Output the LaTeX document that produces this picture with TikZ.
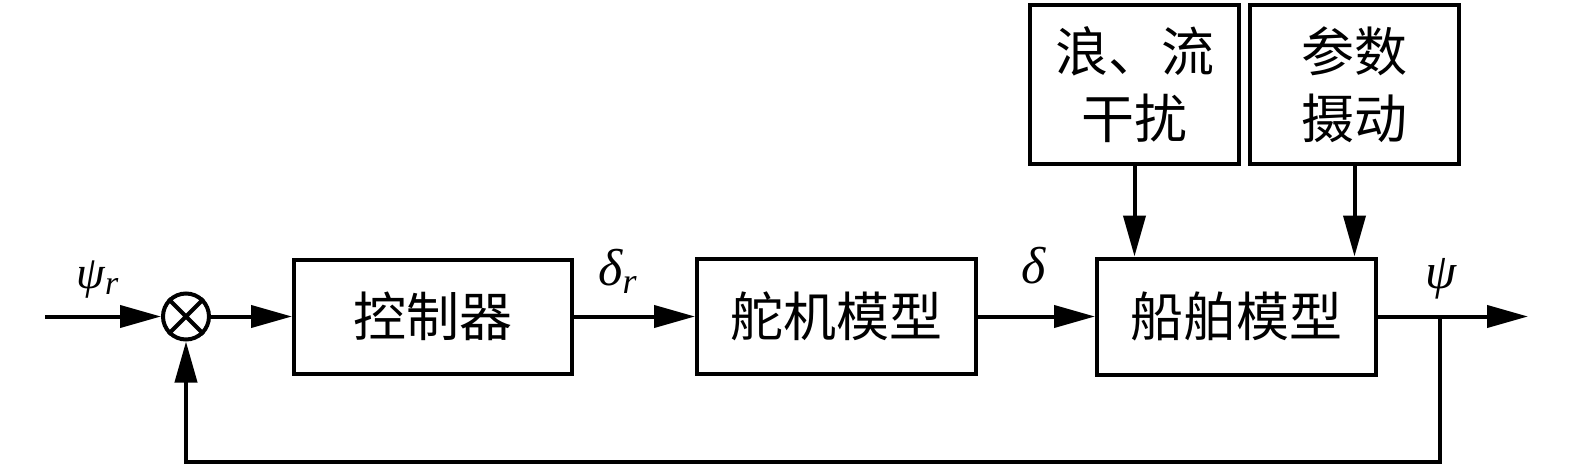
\documentclass[tikz,border=0pt]{standalone}
\usepackage{fontspec}
\newfontfamily\cjk{Noto Sans CJK SC}
\newfontfamily\grk{Liberation Serif}
\usetikzlibrary{arrows.meta}
\begin{document}
\begin{tikzpicture}[x=1pt,y=-1pt,
  box/.style={draw, line width=4pt, align=center, inner sep=0pt,
    font=\cjk\fontsize{53}{67}\selectfont},
  arr/.style={line width=4pt, -{Triangle[length=41pt,width=22pt]}},
  wire/.style={line width=4pt},
  lbl/.style={inner sep=0pt, font=\grk\itshape}]
\useasboundingbox (0,0) rectangle (1575,469);
\node[box, minimum width=278pt, minimum height=114pt] (ctrl) at (433,316.5) {控制器};
\node[box, minimum width=279pt, minimum height=115pt] (servo) at (836.5,316.5) {舵机模型};
\node[box, minimum width=279pt, minimum height=116pt] (ship) at (1236.5,316.5) {船舶模型};
\node[box, minimum width=209pt, minimum height=159pt] (wave) at (1134.5,84.5) {浪、流\\干扰};
\node[box, minimum width=209pt, minimum height=159pt] (param) at (1354.5,84.5) {参数\\摄动};
\node[circle, draw, line width=4pt, minimum size=46pt, inner sep=0pt] (sum) at (186,316.5) {};
\draw[wire] (sum.north west) -- (sum.south east) (sum.north east) -- (sum.south west);
\coordinate (in) at (45,316.5);
\coordinate (out) at (1528,316.5);
\coordinate (tap) at (1440,316.5);
\coordinate (fb) at (1440,462);
\draw[arr] (in) -- (sum);
\draw[arr] (sum) -- (ctrl);
\draw[arr] (ctrl) -- (servo);
\draw[arr] (servo) -- (ship);
\draw[arr] (ship) -- (out);
\draw[arr] (tap) -- (fb) -| (sum.south);
\draw[arr] (wave.south) -- (wave.south |- ship.north);
\draw[arr] (param.south) -- (param.south |- ship.north);
\node[lbl] (lpsir) at (97.5,280) {\fontsize{46}{46}\selectfont ψ\raisebox{-6pt}{\fontsize{34}{34}\selectfont r}};
\node[lbl] (ldeltar) at (617.5,271) {\fontsize{52}{52}\selectfont δ\raisebox{-8pt}{\fontsize{36}{36}\selectfont r}};
\node[lbl] (ldelta) at (1033.5,266) {\fontsize{52}{52}\selectfont δ};
\node[lbl] (lpsi) at (1441,279) {\fontsize{50}{50}\selectfont ψ};
\end{tikzpicture}
\end{document}
